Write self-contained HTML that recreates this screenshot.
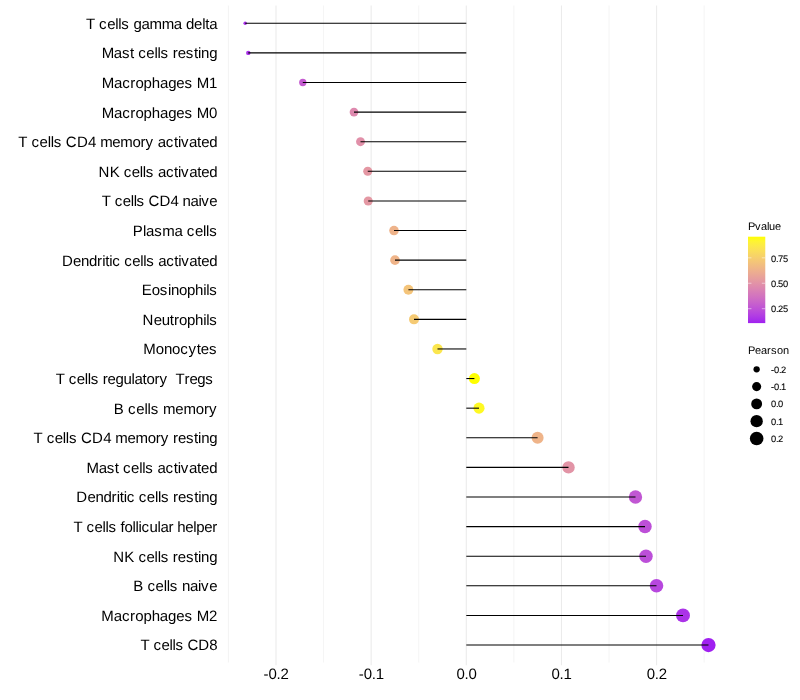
<!DOCTYPE html>
<html><head><meta charset="utf-8"><title>Lollipop</title>
<style>html,body{margin:0;padding:0;background:#fff}svg{display:block;will-change:transform}text{text-rendering:geometricPrecision;font-family:"Liberation Sans",sans-serif;fill:#000}</style></head><body>
<svg width="800" height="700" viewBox="0 0 800 700">
<rect width="800" height="700" fill="#fff"/>
<line x1="228.43" x2="228.43" y1="5.5" y2="662.5" stroke="#EBEBEB" stroke-width="0.53"/>
<line x1="276.00" x2="276.00" y1="5.5" y2="665.25" stroke="#EBEBEB" stroke-width="1.07"/>
<line x1="323.57" x2="323.57" y1="5.5" y2="662.5" stroke="#EBEBEB" stroke-width="0.53"/>
<line x1="371.15" x2="371.15" y1="5.5" y2="665.25" stroke="#EBEBEB" stroke-width="1.07"/>
<line x1="418.73" x2="418.73" y1="5.5" y2="662.5" stroke="#EBEBEB" stroke-width="0.53"/>
<line x1="466.30" x2="466.30" y1="5.5" y2="665.25" stroke="#EBEBEB" stroke-width="1.07"/>
<line x1="513.88" x2="513.88" y1="5.5" y2="662.5" stroke="#EBEBEB" stroke-width="0.53"/>
<line x1="561.45" x2="561.45" y1="5.5" y2="665.25" stroke="#EBEBEB" stroke-width="1.07"/>
<line x1="609.03" x2="609.03" y1="5.5" y2="662.5" stroke="#EBEBEB" stroke-width="0.53"/>
<line x1="656.60" x2="656.60" y1="5.5" y2="665.25" stroke="#EBEBEB" stroke-width="1.07"/>
<line x1="704.17" x2="704.17" y1="5.5" y2="662.5" stroke="#EBEBEB" stroke-width="0.53"/>
<circle cx="245.20" cy="23.29" r="1.78" fill="#A930EA"/>
<circle cx="248.30" cy="52.90" r="2.21" fill="#AA32E9"/>
<circle cx="302.80" cy="82.50" r="3.66" fill="#C45BD0"/>
<circle cx="354.00" cy="112.11" r="4.36" fill="#DE89AE"/>
<circle cx="360.50" cy="141.71" r="4.44" fill="#E190A9"/>
<circle cx="367.75" cy="171.32" r="4.52" fill="#E497A3"/>
<circle cx="368.20" cy="200.93" r="4.52" fill="#E498A3"/>
<circle cx="394.00" cy="230.53" r="4.80" fill="#EEB38A"/>
<circle cx="395.00" cy="260.14" r="4.81" fill="#EFB489"/>
<circle cx="408.40" cy="289.74" r="4.94" fill="#F4C47A"/>
<circle cx="414.00" cy="319.35" r="5.00" fill="#F5CA73"/>
<circle cx="437.50" cy="348.96" r="5.21" fill="#FBE64E"/>
<circle cx="474.40" cy="378.56" r="5.53" fill="#FFFF00"/>
<circle cx="479.00" cy="408.17" r="5.56" fill="#FEF923"/>
<circle cx="537.60" cy="437.77" r="6.01" fill="#EFB489"/>
<circle cx="568.50" cy="467.38" r="6.23" fill="#E294A6"/>
<circle cx="635.50" cy="496.99" r="6.67" fill="#C157D3"/>
<circle cx="645.00" cy="526.59" r="6.73" fill="#BD4FD8"/>
<circle cx="646.00" cy="556.20" r="6.74" fill="#BC4FD9"/>
<circle cx="656.50" cy="585.80" r="6.80" fill="#B747DE"/>
<circle cx="683.00" cy="615.41" r="6.96" fill="#AB33E8"/>
<circle cx="708.50" cy="645.02" r="7.11" fill="#A020F0"/>
<line x1="466.30" x2="245.20" y1="23.29" y2="23.29" stroke="#000" stroke-width="1.07"/>
<line x1="466.30" x2="248.30" y1="52.90" y2="52.90" stroke="#000" stroke-width="1.07"/>
<line x1="466.30" x2="302.80" y1="82.50" y2="82.50" stroke="#000" stroke-width="1.07"/>
<line x1="466.30" x2="354.00" y1="112.11" y2="112.11" stroke="#000" stroke-width="1.07"/>
<line x1="466.30" x2="360.50" y1="141.71" y2="141.71" stroke="#000" stroke-width="1.07"/>
<line x1="466.30" x2="367.75" y1="171.32" y2="171.32" stroke="#000" stroke-width="1.07"/>
<line x1="466.30" x2="368.20" y1="200.93" y2="200.93" stroke="#000" stroke-width="1.07"/>
<line x1="466.30" x2="394.00" y1="230.53" y2="230.53" stroke="#000" stroke-width="1.07"/>
<line x1="466.30" x2="395.00" y1="260.14" y2="260.14" stroke="#000" stroke-width="1.07"/>
<line x1="466.30" x2="408.40" y1="289.74" y2="289.74" stroke="#000" stroke-width="1.07"/>
<line x1="466.30" x2="414.00" y1="319.35" y2="319.35" stroke="#000" stroke-width="1.07"/>
<line x1="466.30" x2="437.50" y1="348.96" y2="348.96" stroke="#000" stroke-width="1.07"/>
<line x1="466.30" x2="474.40" y1="378.56" y2="378.56" stroke="#000" stroke-width="1.07"/>
<line x1="466.30" x2="479.00" y1="408.17" y2="408.17" stroke="#000" stroke-width="1.07"/>
<line x1="466.30" x2="537.60" y1="437.77" y2="437.77" stroke="#000" stroke-width="1.07"/>
<line x1="466.30" x2="568.50" y1="467.38" y2="467.38" stroke="#000" stroke-width="1.07"/>
<line x1="466.30" x2="635.50" y1="496.99" y2="496.99" stroke="#000" stroke-width="1.07"/>
<line x1="466.30" x2="645.00" y1="526.59" y2="526.59" stroke="#000" stroke-width="1.07"/>
<line x1="466.30" x2="646.00" y1="556.20" y2="556.20" stroke="#000" stroke-width="1.07"/>
<line x1="466.30" x2="656.50" y1="585.80" y2="585.80" stroke="#000" stroke-width="1.07"/>
<line x1="466.30" x2="683.00" y1="615.41" y2="615.41" stroke="#000" stroke-width="1.07"/>
<line x1="466.30" x2="708.50" y1="645.02" y2="645.02" stroke="#000" stroke-width="1.07"/>
<text y="29.00" font-size="15" x="85.96 95.06 99.10 107.18 115.26 118.29 121.32 129.41 133.45 141.53 149.61 161.73 173.86 181.94 185.98 194.06 202.15 205.18 209.22">T cells gamma delta</text>
<text y="58.00" font-size="15" x="101.67 113.84 121.96 130.07 134.13 138.18 146.30 154.41 157.46 160.50 168.61 172.67 177.74 185.86 193.97 198.03 201.07 209.19">Mast cells resting</text>
<text y="88.00" font-size="15" x="101.67 113.95 122.14 130.32 135.44 143.62 151.81 160.00 168.18 176.37 184.56 192.74 196.83 209.11">Macrophages M1</text>
<text y="118.00" font-size="15" x="101.67 113.95 122.14 130.32 135.44 143.62 151.81 160.00 168.18 176.37 184.56 192.74 196.83 209.11">Macrophages M0</text>
<text y="147.00" font-size="15" x="18.36 27.45 31.49 39.57 47.65 50.68 53.71 61.79 65.83 76.93 88.04 96.12 100.16 112.28 120.36 132.47 140.55 145.60 153.68 157.72 165.80 173.88 177.92 180.95 189.02 197.10 201.14 209.22">T cells CD4 memory activated</text>
<text y="177.00" font-size="15" x="98.57 109.64 119.70 123.72 131.77 139.82 142.84 145.86 153.91 157.93 165.98 174.03 178.06 181.08 189.13 197.18 201.20 209.25">NK cells activated</text>
<text y="206.00" font-size="15" x="101.76 110.73 114.71 122.68 130.65 133.64 136.62 144.59 148.58 159.53 170.49 178.46 182.44 190.41 198.38 201.36 209.33">T cells CD4 naive</text>
<text y="236.00" font-size="15" x="132.77 142.95 146.01 154.16 162.30 174.53 182.67 186.75 194.89 203.04 206.10 209.15">Plasma cells</text>
<text y="266.00" font-size="15" x="62.07 73.09 81.10 89.11 97.12 102.13 105.13 109.14 112.14 120.16 124.16 132.17 140.19 143.19 146.19 154.21 158.21 166.22 174.24 178.24 181.25 189.26 197.27 201.28 209.29">Dendritic cells activated</text>
<text y="295.00" font-size="15" x="141.67 151.75 159.82 167.89 170.91 178.98 187.05 195.12 203.18 206.21 209.23">Eosinophils</text>
<text y="325.00" font-size="15" x="142.57 153.68 161.76 169.84 173.88 178.92 187.00 195.08 203.16 206.19 209.22">Neutrophils</text>
<text y="354.00" font-size="15" x="143.37 155.69 163.91 172.12 180.33 188.55 196.76 200.87 209.09">Monocytes</text>
<text y="384.00" font-size="15" x="55.76 64.74 68.73 76.70 84.68 87.67 90.66 98.64 102.63 107.61 115.59 123.57 131.55 134.54 142.51 146.50 154.48 159.47 167.44 171.43 175.42 184.39 189.38 197.36 205.33">T cells regulatory  Tregs</text>
<text y="414.00" font-size="15" x="113.77 124.02 128.12 136.32 144.52 147.60 150.67 158.87 162.97 175.27 183.47 195.77 203.97 209.10">B cells memory</text>
<text y="443.00" font-size="15" x="33.56 42.65 46.69 54.76 62.84 65.87 68.90 76.97 81.01 92.12 103.22 111.30 115.34 127.45 135.53 147.64 155.72 160.77 168.84 172.88 177.93 186.00 194.08 198.12 201.15 209.22">T cells CD4 memory resting</text>
<text y="473.00" font-size="15" x="86.47 98.64 106.75 114.87 118.92 122.98 131.09 139.21 142.25 145.29 153.41 157.46 165.58 173.69 177.75 180.79 188.90 197.02 201.07 209.19">Mast cells activated</text>
<text y="502.00" font-size="15" x="76.37 87.44 95.50 103.55 111.60 116.64 119.66 123.68 126.70 134.76 138.78 146.83 154.89 157.91 160.93 168.98 173.01 178.04 186.09 194.15 198.17 201.19 209.25">Dendritic cells resting</text>
<text y="532.00" font-size="15" x="73.56 82.55 86.54 94.52 102.51 105.50 108.50 116.48 120.48 124.47 132.46 135.45 138.44 141.44 149.42 157.41 160.40 168.39 173.38 177.37 185.36 193.34 196.34 204.32 212.31">T cells follicular helper</text>
<text y="562.00" font-size="15" x="113.17 124.29 134.40 138.44 146.53 154.62 157.65 160.69 168.77 172.82 177.87 185.96 194.05 198.09 201.12 209.21">NK cells resting</text>
<text y="591.00" font-size="15" x="133.37 143.48 147.53 155.62 163.71 166.74 169.77 177.86 181.91 190.00 198.09 201.12 209.21">B cells naive</text>
<text y="621.00" font-size="15" x="101.37 113.68 121.89 130.10 135.23 143.43 151.64 159.85 168.06 176.26 184.47 192.68 196.78 209.09">Macrophages M2</text>
<text y="650.00" font-size="15" x="140.56 149.53 153.52 161.49 169.46 172.45 175.44 183.42 187.40 198.36 209.33">T cells CD8</text>
<text y="679.00" font-size="15" x="263.60 268.60 276.60 280.60">-0.2</text>
<text y="679.00" font-size="15" x="358.75 363.75 371.75 375.75">-0.1</text>
<text y="679.00" font-size="15" x="456.40 464.40 468.40">0.0</text>
<text y="679.00" font-size="15" x="551.55 559.55 563.55">0.1</text>
<text y="679.00" font-size="15" x="646.70 654.70 658.70">0.2</text>
<defs><linearGradient id="g" x1="0" y1="1" x2="0" y2="0">
<stop offset="0%" stop-color="#A020F0"/>
<stop offset="5%" stop-color="#AA33E8"/>
<stop offset="10%" stop-color="#B441E1"/>
<stop offset="15%" stop-color="#BC4ED9"/>
<stop offset="20%" stop-color="#C35AD1"/>
<stop offset="25%" stop-color="#CA66C9"/>
<stop offset="30%" stop-color="#D171C1"/>
<stop offset="35%" stop-color="#D67BB9"/>
<stop offset="40%" stop-color="#DC86B1"/>
<stop offset="45%" stop-color="#E190A9"/>
<stop offset="50%" stop-color="#E59BA0"/>
<stop offset="55%" stop-color="#E9A597"/>
<stop offset="60%" stop-color="#EDAF8E"/>
<stop offset="65%" stop-color="#F0B984"/>
<stop offset="70%" stop-color="#F3C37A"/>
<stop offset="75%" stop-color="#F6CD6F"/>
<stop offset="80%" stop-color="#F8D763"/>
<stop offset="85%" stop-color="#FBE156"/>
<stop offset="90%" stop-color="#FCEB46"/>
<stop offset="95%" stop-color="#FEF530"/>
<stop offset="100%" stop-color="#FFFF00"/>
</linearGradient></defs>
<text y="230.00" font-size="11" x="748.00 755.00 761.00 767.00 769.00 775.00">Pvalue</text>
<rect x="748" y="236.7" width="17.28" height="86.4" fill="url(#g)"/>
<line x1="748" x2="751.46" y1="308.69" y2="308.69" stroke="#fff" stroke-width="0.5"/>
<line x1="761.82" x2="765.28" y1="308.69" y2="308.69" stroke="#fff" stroke-width="0.5"/>
<text y="312.00" font-size="9.3" stroke="#000" stroke-width="0.1" x="770.90 775.90 777.90 782.90">0.25</text>
<line x1="748" x2="751.46" y1="283.26" y2="283.26" stroke="#fff" stroke-width="0.5"/>
<line x1="761.82" x2="765.28" y1="283.26" y2="283.26" stroke="#fff" stroke-width="0.5"/>
<text y="287.00" font-size="9.3" stroke="#000" stroke-width="0.1" x="770.90 775.90 777.90 782.90">0.50</text>
<line x1="748" x2="751.46" y1="257.84" y2="257.84" stroke="#fff" stroke-width="0.5"/>
<line x1="761.82" x2="765.28" y1="257.84" y2="257.84" stroke="#fff" stroke-width="0.5"/>
<text y="262.00" font-size="9.3" stroke="#000" stroke-width="0.1" x="770.90 775.90 777.90 782.90">0.75</text>
<text y="354.00" font-size="11" x="748.00 755.00 761.00 767.00 771.00 777.00 783.00">Pearson</text>
<circle cx="756.64" cy="369.34" r="3.15" fill="#000"/>
<text y="373.00" font-size="9.3" stroke="#000" stroke-width="0.1" x="770.90 773.90 778.90 780.90">-0.2</text>
<circle cx="756.64" cy="386.62" r="4.56" fill="#000"/>
<text y="390.00" font-size="9.3" stroke="#000" stroke-width="0.1" x="770.90 773.90 778.90 780.90">-0.1</text>
<circle cx="756.64" cy="403.90" r="5.46" fill="#000"/>
<text y="407.00" font-size="9.3" stroke="#000" stroke-width="0.1" x="770.90 775.90 777.90">0.0</text>
<circle cx="756.64" cy="421.18" r="6.18" fill="#000"/>
<text y="425.00" font-size="9.3" stroke="#000" stroke-width="0.1" x="770.90 775.90 777.90">0.1</text>
<circle cx="756.64" cy="438.46" r="6.80" fill="#000"/>
<text y="442.00" font-size="9.3" stroke="#000" stroke-width="0.1" x="770.90 775.90 777.90">0.2</text>
</svg></body></html>
